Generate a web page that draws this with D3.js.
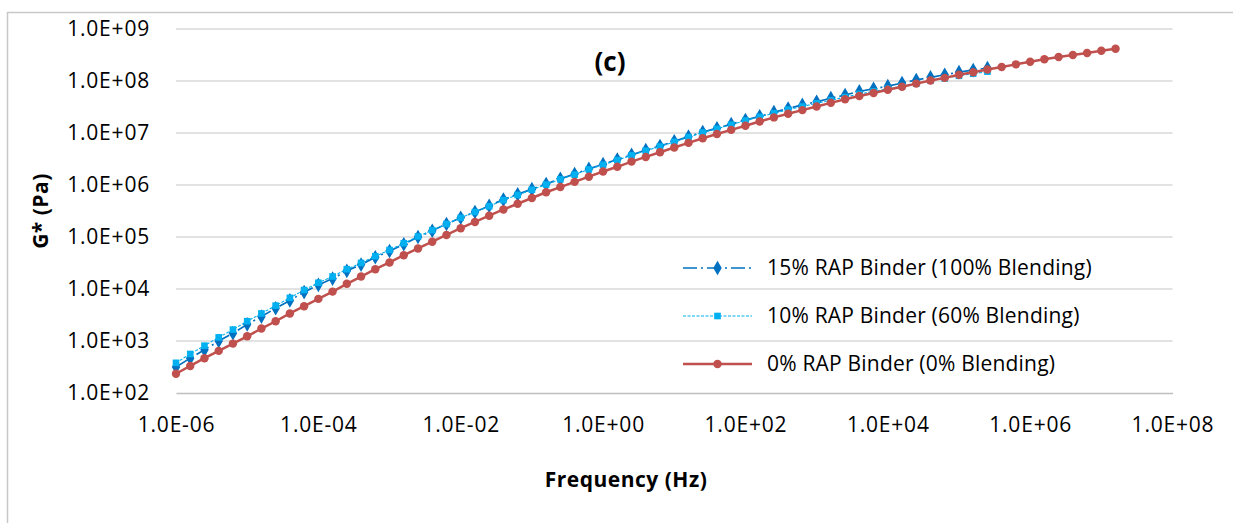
<!DOCTYPE html>
<html>
<head>
<meta charset="utf-8">
<script src="https://cdn.jsdelivr.net/npm/d3@7"></script>
<style>
  body { margin: 0; background: #fff; }
  text { font-family: "Open Sans", sans-serif; fill: #000; }
</style>
</head>
<body>
<div id="chart"></div>
<script>
// log10 of frequency (Hz), one point every 0.2 decade
const logFreq = [
  -6.0, -5.8, -5.6, -5.4, -5.2, -5.0, -4.8, -4.6, -4.4, -4.2,
  -4.0, -3.8, -3.6, -3.4, -3.2, -3.0, -2.8, -2.6, -2.4, -2.2,
  -2.0, -1.8, -1.6, -1.4, -1.2, -1.0, -0.8, -0.6, -0.4, -0.2,
   0.0,  0.2,  0.4,  0.6,  0.8,  1.0,  1.2,  1.4,  1.6,  1.8,
   2.0,  2.2,  2.4,  2.6,  2.8,  3.0,  3.2,  3.4,  3.6,  3.8,
   4.0,  4.2,  4.4,  4.6,  4.8,  5.0,  5.2,  5.4,  5.6,  5.8,
   6.0,  6.2,  6.4,  6.6,  6.8,  7.0,  7.2
];

// log10 of G* (Pa)
const logG15 = [
  2.50, 2.67, 2.83, 3.00, 3.15, 3.32, 3.47, 3.63, 3.78, 3.94,
  4.08, 4.20, 4.35, 4.47, 4.61, 4.73, 4.86, 5.00, 5.12, 5.25,
  5.37, 5.48, 5.60, 5.72, 5.82, 5.92, 6.02, 6.12, 6.21, 6.31,
  6.40, 6.49, 6.58, 6.67, 6.75, 6.84, 6.93, 7.02, 7.09, 7.17,
  7.25, 7.32, 7.40, 7.47, 7.54, 7.60, 7.67, 7.73, 7.80, 7.85,
  7.90, 7.96, 8.02, 8.07, 8.12, 8.17, 8.21, 8.25
];
const logG10 = [
  2.58, 2.75, 2.91, 3.07, 3.22, 3.38, 3.53, 3.68, 3.83, 3.98,
  4.12, 4.24, 4.38, 4.50, 4.63, 4.75, 4.88, 5.01, 5.13, 5.25,
  5.37, 5.48, 5.59, 5.71, 5.81, 5.91, 6.01, 6.11, 6.20, 6.30,
  6.39, 6.48, 6.57, 6.66, 6.74, 6.83, 6.92, 7.01, 7.08, 7.16,
  7.24, 7.31, 7.38, 7.45, 7.51, 7.57, 7.63, 7.69, 7.75, 7.80,
  7.85, 7.90, 7.95, 8.01, 8.05, 8.10, 8.14, 8.18
];
const logG0 = [
  2.37, 2.52, 2.67, 2.81, 2.95, 3.09, 3.24, 3.38, 3.53, 3.67,
  3.81, 3.95, 4.10, 4.24, 4.38, 4.51, 4.65, 4.78, 4.91, 5.04,
  5.17, 5.29, 5.41, 5.53, 5.64, 5.75, 5.86, 5.96, 6.06, 6.16,
  6.26, 6.35, 6.45, 6.54, 6.63, 6.72, 6.81, 6.90, 6.98, 7.06,
  7.14, 7.22, 7.30, 7.37, 7.44, 7.51, 7.58, 7.65, 7.71, 7.77,
  7.83, 7.89, 7.95, 8.01, 8.06, 8.12, 8.17, 8.22, 8.27, 8.32,
  8.37, 8.42, 8.46, 8.50, 8.54, 8.58, 8.62
];

const seriesNames = [
  "15% RAP Binder (100% Blending)",
  "10% RAP Binder (60% Blending)",
  "0% RAP Binder (0% Blending)"
];
const xTicks = [1e-6, 1e-4, 1e-2, 1e0, 1e2, 1e4, 1e6, 1e8];
const yTicks = [1e2, 1e3, 1e4, 1e5, 1e6, 1e7, 1e8, 1e9];

const width = 1233, height = 523;
const margin = {left: 176, right: 60.5, top: 29, bottom: 130};

const svg = d3.select("#chart").append("svg")
    .attr("width", width)
    .attr("height", height);

svg.append("rect")
    .attr("width", width).attr("height", height)
    .attr("fill", "#fff");
svg.append("rect")
    .attr("x", 7.5).attr("y", 12.5)
    .attr("width", 1400).attr("height", 700)
    .attr("fill", "none")
    .attr("stroke", "#c8c8c8")
    .attr("stroke-width", 1.5);

const x = d3.scaleLog()
    .domain([1e-6, 1e8])
    .range([margin.left, width - margin.right]);
const y = d3.scaleLog()
    .domain([1e2, 1e9])
    .range([height - margin.bottom, margin.top]);

const sci = d => {
    const e = Math.round(Math.log10(d));
    return "1.0E" + (e < 0 ? "-" : "+") + String(Math.abs(e)).padStart(2, "0");
};

// gridlines
svg.append("g")
    .selectAll("line")
    .data(yTicks.slice(1))
    .enter().append("line")
    .attr("x1", x.range()[0]).attr("x2", x.range()[1])
    .attr("y1", d => y(d)).attr("y2", d => y(d))
    .attr("stroke", "#d9d9d9")
    .attr("stroke-width", 1.3);

const yAxis = svg.append("g")
    .attr("transform", `translate(${margin.left},0)`)
    .call(d3.axisLeft(y).tickValues(yTicks).tickFormat(sci).tickSize(0).tickPadding(26));
yAxis.select(".domain").remove();
yAxis.selectAll("text")
    .style("font-size", "21px")
    .style("letter-spacing", "0.8px")
    .style("font-family", "Open Sans");

const xAxis = svg.append("g")
    .attr("transform", `translate(0,${height - margin.bottom})`)
    .call(d3.axisBottom(x).tickValues(xTicks).tickFormat(sci).tickSize(0).tickPadding(24));
xAxis.select(".domain")
    .attr("stroke", "#bfbfbf")
    .attr("stroke-width", 1.3);
xAxis.selectAll("text")
    .style("font-size", "21px")
    .style("letter-spacing", "0.8px")
    .style("font-family", "Open Sans");

// titles
svg.append("text")
    .attr("x", 610).attr("y", 71)
    .attr("text-anchor", "middle")
    .style("font-size", "26px").style("font-weight", "bold")
    .text("(c)");
svg.append("text")
    .attr("x", 626).attr("y", 487)
    .attr("text-anchor", "middle")
    .style("font-size", "21px").style("font-weight", "bold")
    .style("letter-spacing", "0.5px")
    .text("Frequency (Hz)");
svg.append("text")
    .attr("transform", "translate(48,211) rotate(-90)")
    .attr("text-anchor", "middle")
    .style("font-size", "21px").style("font-weight", "bold")
    .style("letter-spacing", "0.5px")
    .text("G* (Pa)");

const series = [
    {name: seriesNames[0], vals: logG15, color: "#0070c0", width: 1.7, dash: "14,4,2,4", marker: "diamond"},
    {name: seriesNames[1], vals: logG10, color: "#00b0f0", width: 1.1, dash: "3,1.5", marker: "square"},
    {name: seriesNames[2], vals: logG0, color: "#c0504d", width: 2.5, dash: null, marker: "circle"}
];

const symbols = {
    diamond: d3.symbol().type(d3.symbolDiamond).size(62),
    square: d3.symbol().type(d3.symbolSquare).size(44),
    circle: d3.symbol().type(d3.symbolCircle).size(56)
};

const line = d3.line()
    .x(d => x(d.f))
    .y(d => y(d.g));

series.forEach(s => {
    const pts = s.vals.map((v, i) => ({f: Math.pow(10, logFreq[i]), g: Math.pow(10, v)}));
    const g = svg.append("g");
    g.append("path")
        .datum(pts)
        .attr("d", line)
        .attr("fill", "none")
        .attr("stroke", s.color)
        .attr("stroke-width", s.width)
        .attr("stroke-dasharray", s.dash);
    g.selectAll("path.m")
        .data(pts)
        .enter().append("path")
        .attr("class", "m")
        .attr("transform", d => `translate(${x(d.f)},${y(d.g)})`)
        .attr("d", symbols[s.marker])
        .attr("fill", s.color);
});

// legend
const legend = svg.append("g")
    .selectAll("g")
    .data(series)
    .enter().append("g")
    .attr("transform", (d, i) => `translate(683,${268 + i * 48})`);
legend.append("line")
    .attr("x1", 0).attr("x2", 69)
    .attr("stroke", d => d.color)
    .attr("stroke-width", d => d.width)
    .attr("stroke-dasharray", d => d.dash);
legend.append("path")
    .attr("transform", "translate(34.5,0)")
    .attr("d", d => symbols[d.marker]())
    .attr("fill", d => d.color);
legend.append("text")
    .attr("x", 84).attr("dy", "0.35em")
    .style("font-size", "21px")
    .style("letter-spacing", "0.2px")
    .text(d => d.name);
</script>
</body>
</html>
